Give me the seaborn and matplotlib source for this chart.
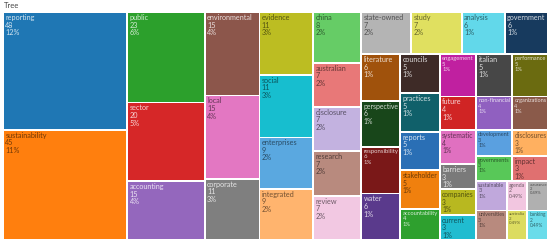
import matplotlib
matplotlib.use("Agg")
import matplotlib.pyplot as plt
from matplotlib.patches import Rectangle
import seaborn as sns

terms = ["reporting", "sustainability", "public", "sector", "accounting",
         "environmental", "local", "corporate", "evidence", "social",
         "enterprises", "integrated", "china", "australian", "disclosure",
         "research", "review", "state-owned", "study", "analysis",
         "government", "literature", "perspective", "responsibility", "water",
         "councils", "practices", "reports", "stakeholder", "accountability",
         "engagement", "italian", "performance", "future", "non-financial",
         "organizations", "systematic", "barriers", "companies", "current",
         "development", "disclosures", "governments", "impact", "sustainable",
         "agenda", "assurance", "universities", "australia", "banking"]
counts = [48, 45, 23, 20, 15,
          15, 15, 11, 11, 11,
          9, 9, 8, 7, 7,
          7, 7, 7, 7, 6,
          6, 6, 6, 6, 6,
          5, 5, 5, 5, 4,
          5, 5, 5, 4, 4,
          4, 4, 3, 3, 3,
          3, 3, 3, 3, 3,
          2, 2, 3, 2, 2]
shares = ["12%", "11%", "6%", "5%", "4%",
          "4%", "4%", "3%", "3%", "3%",
          "2%", "2%", "2%", "2%", "2%",
          "2%", "2%", "2%", "2%", "1%",
          "1%", "1%", "1%", "1%", "1%",
          "1%", "1%", "1%", "1%", "1%",
          "1%", "1%", "1%", "1%", "1%",
          "1%", "1%", "1%", "1%", "1%",
          "1%", "1%", "1%", "1%", "1%",
          "0.49%", "0.49%", "1%", "0.49%", "0.49%"]
colors = ["#1f77b4", "#ff7f0e", "#2ca02c", "#d62728", "#9467bd",
          "#8c564b", "#e377c2", "#7f7f7f", "#bcbd22", "#17becf",
          "#5aa8e0", "#ffb46e", "#66cc66", "#e87878", "#c3b2e0",
          "#b88a7e", "#f2c8e2", "#b4b4b4", "#e0e060", "#62d8ea",
          "#173a5e", "#a0520c", "#18461a", "#7a1818", "#5a3a8c",
          "#3e2b27", "#10606a", "#2a6fb5", "#f0800e", "#2ea02e",
          "#c020a0", "#474747", "#6b6b10", "#d02424", "#9060c0",
          "#8a5a4a", "#e070c0", "#7a7a7a", "#b8b820", "#20bcd0",
          "#5aa0e0", "#ffb060", "#58c858", "#e07070", "#c0a8dc",
          "#f2c6e0", "#b0b0b0", "#b88a7e", "#dcdc60", "#6adcea"]

# strip structure of the treemap (items per strip, orientation):
# 'v' = strip is a column (items stacked top to bottom), 'h' = strip is a row
strips = [(2, "v"), (3, "v"), (3, "v"), (4, "v"), (5, "v"),
          (4, "h"), (4, "v"), (5, "v"), (3, "h"), (3, "h"),
          (4, "v"), (2, "h"), (2, "h"), (3, "h"), (3, "h")]


def strip_layout(values, strips, W, H):
    total = float(sum(values))
    scale = W * H / total
    x, y, dx, dy = 0.0, 0.0, W, H
    rects = []
    i = 0
    for n, orient in strips:
        areas = [v * scale for v in values[i:i + n]]
        covered = sum(areas)
        if orient == "v":
            w = covered / dy
            yy = y
            for a in areas:
                rects.append((x, yy, w, a / w))
                yy += a / w
            x += w
            dx -= w
        else:
            h = covered / dx
            xx = x
            for a in areas:
                rects.append((xx, y, a / h, h))
                xx += a / h
            y += h
            dy -= h
        i += n
    return rects


sns.set_theme(style="white")
plt.rcParams["font.family"] = ["Lato", "DejaVu Sans"]

W, H = 545.0, 228.0
fig = plt.figure(figsize=(5.5, 2.42), dpi=100)
ax = fig.add_axes([3 / 550, 2 / 242, W / 550, H / 242])
ax.set_xlim(0, W)
ax.set_ylim(H, 0)
ax.axis("off")

palette = sns.color_palette(colors)
rects = strip_layout(counts, strips, W, H)
pad = 0.9
labels = []
for (x, y, dx, dy), term, n, pct, col in zip(rects, terms, counts, shares, palette):
    patch = Rectangle((x + pad, y + pad), dx - 2 * pad, dy - 2 * pad,
                      facecolor=col, edgecolor="none")
    ax.add_patch(patch)
    r, g, b = col
    lum = 0.299 * r + 0.587 * g + 0.114 * b
    if lum > 0.55:
        tc = (r * 0.45, g * 0.45, b * 0.45)
    else:
        tc = (r + (1 - r) * 0.8, g + (1 - g) * 0.8, b + (1 - b) * 0.8)
    t = ax.text(x + pad + 1.5, y + pad + 1.0, f"{term}\n{n}\n{pct}",
                ha="left", va="top", fontsize=5.2, linespacing=1.1, color=tc)
    t.set_clip_path(patch)
    labels.append((t, dx - 2 * pad - 2.5, dy - 2 * pad - 1.5))

fig.canvas.draw()
renderer = fig.canvas.get_renderer()
for t, avail_w, avail_h in labels:
    bb = t.get_window_extent(renderer)
    f = min(1.0, avail_w / bb.width, avail_h / bb.height)
    if f < 1.0:
        t.set_fontsize(max(3.0, 5.2 * f))

fig.text(4 / 550, 1 - 6 / 242, "Tree", ha="left", va="center", fontsize=5.5, color="#444444")
fig.savefig("out.png", dpi=100)
